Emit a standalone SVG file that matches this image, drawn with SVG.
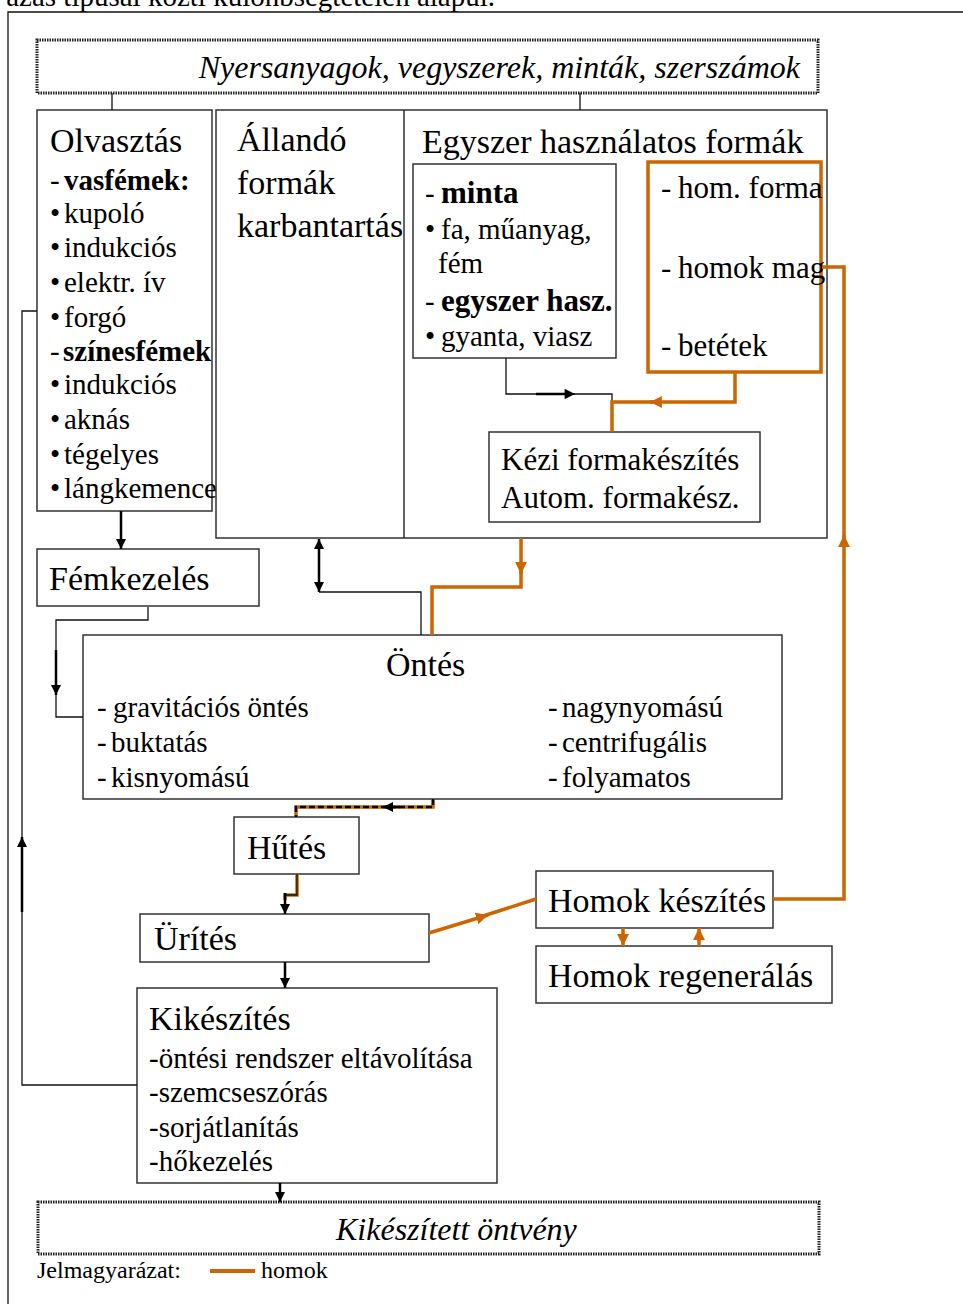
<svg xmlns="http://www.w3.org/2000/svg" width="963" height="1304" viewBox="0 0 963 1304">
<style>
text{font-family:"Liberation Serif","Times New Roman",serif;fill:#000}
.t{font-size:34px}
.i{font-size:29px}
.o{font-size:31px}
.b{font-weight:bold}
.box{fill:#fff;stroke:#333;stroke-width:1.5}
.dot{fill:#fff;stroke:#222;stroke-width:3;stroke-dasharray:1.5 1}
.ln{fill:none;stroke:#111;stroke-width:1.3}
.bd{fill:none;stroke:#000;stroke-width:2.5}
.or{fill:none;stroke:#CC6600;stroke-width:3.5}
.dash{fill:none;stroke:#000;stroke-width:2.5;stroke-dasharray:6 3}
</style>
<defs>
<marker id="ab" viewBox="0 0 10 10" refX="10" refY="5" markerWidth="4" markerHeight="4.5" orient="auto" markerUnits="strokeWidth"><path d="M0,0 L10,5 L0,10 z" fill="#000"/></marker>
<marker id="abs" viewBox="0 0 10 10" refX="10" refY="5" markerWidth="10" markerHeight="8" orient="auto" markerUnits="strokeWidth"><path d="M0,0 L10,5 L0,10 z" fill="#000"/></marker>
<marker id="ao" viewBox="0 0 10 10" refX="10" refY="5" markerWidth="3.4" markerHeight="3.8" orient="auto" markerUnits="strokeWidth"><path d="M0,0 L10,5 L0,10 z" fill="#CC6600"/></marker>
</defs>
<rect width="963" height="1304" fill="#fff"/>
<text x="495" y="6" font-size="29" text-anchor="end">azás típusai közti különbségtételen alapul.</text>
<path class="ln" d="M8,1304 V12 H963"/>

<g id="n-nyersanyag">
<rect class="dot" x="37" y="40" width="781" height="53"/>
<text x="800" y="78" font-size="32" font-style="italic" text-anchor="end">Nyersanyagok, vegyszerek, minták, szerszámok</text>
</g>

<g id="n-olvasztas">
<rect class="box" x="37" y="110" width="175" height="401"/>
<text class="t" x="50" y="152">Olvasztás</text>
<text class="i" x="50" y="190">-<tspan x="64" class="b">vasfémek:</tspan></text>
<text class="i" x="50" y="223">•<tspan x="64">kupoló</tspan></text>
<text class="i" x="50" y="257">•<tspan x="64">indukciós</tspan></text>
<text class="i" x="50" y="292">•<tspan x="64">elektr. ív</tspan></text>
<text class="i" x="50" y="327">•<tspan x="64">forgó</tspan></text>
<text class="i" x="50" y="361">-<tspan x="63" class="b">színesfémek</tspan></text>
<text class="i" x="50" y="394">•<tspan x="64">indukciós</tspan></text>
<text class="i" x="50" y="429">•<tspan x="64">aknás</tspan></text>
<text class="i" x="50" y="464">•<tspan x="64">tégelyes</tspan></text>
<text class="i" x="50" y="498">•<tspan x="64">lángkemence</tspan></text>
</g>

<g id="n-formak">
<rect class="box" x="216" y="110" width="611" height="428"/>
<path class="ln" d="M404,110 V538"/>
<text class="t" x="237" y="151">Állandó</text>
<text class="t" x="237" y="194">formák</text>
<text class="t" x="237" y="237">karbantartás</text>
<text class="t" x="422" y="153">Egyszer használatos formák</text>
</g>

<g id="n-minta">
<rect class="box" x="413" y="164" width="203" height="194"/>
<text class="i" x="425" y="203">-<tspan x="441" class="b" font-size="31">minta</tspan></text>
<text class="i" x="425" y="239">•<tspan x="441">fa, műanyag,</tspan></text>
<text class="i" x="438" y="273">fém</text>
<text class="i" x="425" y="311">-<tspan x="441" class="b" font-size="31">egyszer hasz.</tspan></text>
<text class="i" x="425" y="346">•<tspan x="441">gyanta, viasz</tspan></text>
</g>

<g id="n-homokforma">
<rect x="648" y="162" width="173" height="210" fill="none" stroke="#CC6600" stroke-width="3.5"/>
<text class="o" x="661" y="198">-<tspan x="678">hom. forma</tspan></text>
<text class="o" x="661" y="278">-<tspan x="678">homok mag</tspan></text>
<text class="o" x="661" y="356">-<tspan x="678">betétek</tspan></text>
</g>

<g id="n-kezi">
<rect class="box" x="489" y="432" width="271" height="90"/>
<text class="o" x="501" y="470">Kézi formakészítés</text>
<text class="o" x="501" y="508">Autom. formakész.</text>
</g>

<g id="n-femkezeles">
<rect class="box" x="37" y="549" width="222" height="57"/>
<text class="t" x="49" y="590">Fémkezelés</text>
</g>

<g id="n-ontes">
<rect class="box" x="83" y="635" width="699" height="164"/>
<text class="t" x="386" y="676">Öntés</text>
<text class="i" x="97" y="717">-<tspan x="113">gravitációs öntés</tspan></text>
<text class="i" x="97" y="752">-<tspan x="111">buktatás</tspan></text>
<text class="i" x="97" y="787">-<tspan x="111">kisnyomású</tspan></text>
<text class="i" x="548" y="717">-<tspan x="562">nagynyomású</tspan></text>
<text class="i" x="548" y="752">-<tspan x="562">centrifugális</tspan></text>
<text class="i" x="548" y="787">-<tspan x="562">folyamatos</tspan></text>
</g>

<g id="n-hutes">
<rect class="box" x="234" y="817" width="125" height="57"/>
<text class="t" x="247" y="859">Hűtés</text>
</g>

<g id="n-urites">
<rect class="box" x="140" y="914" width="289" height="48"/>
<text class="t" x="154" y="950">Ürítés</text>
</g>

<g id="n-homokkeszites">
<rect class="box" x="536" y="871" width="237" height="57"/>
<text class="t" x="548" y="912">Homok készítés</text>
</g>

<g id="n-homokregen">
<rect class="box" x="536" y="946" width="296" height="57"/>
<text class="t" x="548" y="987">Homok regenerálás</text>
</g>

<g id="n-kikeszites">
<rect class="box" x="137" y="988" width="360" height="195"/>
<text class="t" x="149" y="1030">Kikészítés</text>
<text class="i" x="149" y="1068">-öntési rendszer eltávolítása</text>
<text class="i" x="149" y="1102">-szemcseszórás</text>
<text class="i" x="149" y="1137">-sorjátlanítás</text>
<text class="i" x="149" y="1171">-hőkezelés</text>
</g>

<g id="n-kikeszitett">
<rect class="dot" x="38" y="1202" width="781" height="52"/>
<text x="336" y="1240" font-size="32" font-style="italic">Kikészített öntvény</text>
</g>

<g id="legend">
<text x="37" y="1278" font-size="24">Jelmagyarázat:</text>
<path d="M210,1271 H255" stroke="#CC6600" stroke-width="4"/>
<text x="261" y="1278" font-size="24">homok</text>
</g>

<g id="connectors">
<path class="ln" d="M112,93 V110 M580,93 V110"/>
<path class="bd" d="M121,511 V549" marker-end="url(#ab)"/>
<path class="bd" d="M319,566 V539" marker-end="url(#ab)"/>
<path class="bd" d="M319,566 V592" marker-end="url(#ab)"/>
<path class="ln" d="M319,592 H421 V635"/>
<path class="ln" d="M148,607 V620 H56 V717 H83"/>
<path class="bd" d="M56,650 V695" marker-end="url(#ab)"/>
<path class="ln" d="M137,1085 H22 V311 H37"/>
<path class="bd" d="M22,912 V837" marker-end="url(#ab)"/>
<path class="ln" d="M506,358 V394 H575" marker-end="url(#abs)"/>
<path class="bd" d="M536,394 H566" stroke-width="2"/>
<path class="ln" d="M570,394 H612 V402"/>
<path class="or" d="M735,373 V402 H650" marker-end="url(#ao)"/>
<path class="or" d="M660,402 H612 V432"/>
<path class="or" d="M521,538 V574" marker-end="url(#ao)"/>
<path class="or" d="M521,568 V587 H432 V635"/>
<path class="or" d="M773,899 H844 V535" marker-end="url(#ao)"/>
<path class="or" d="M844,545 V267 H822"/>
<path class="or" d="M433,799 V807 H296 V817"/>
<path class="dash" d="M433,799 V807 H296 V817"/>
<path class="bd" d="M400,807 H383" marker-end="url(#ab)"/>
<path class="or" d="M297,874 V895 H285 V900"/>
<path class="ln" d="M297,874 V895 H285"/>
<path class="bd" d="M285,893 V914" marker-end="url(#ab)"/>
<path class="bd" d="M285,962 V988" stroke-width="2" marker-end="url(#ab)"/>
<path class="or" d="M429,933 L488,915" marker-end="url(#ao)"/>
<path class="or" d="M480,917 L536,899"/>
<path class="or" d="M623,928 V946" stroke-width="3" marker-end="url(#ao)"/>
<path class="or" d="M699,946 V928" stroke-width="3" marker-end="url(#ao)"/>
<path class="bd" d="M280,1183 V1202" stroke-width="2" marker-end="url(#ab)"/>
</g>
</svg>
